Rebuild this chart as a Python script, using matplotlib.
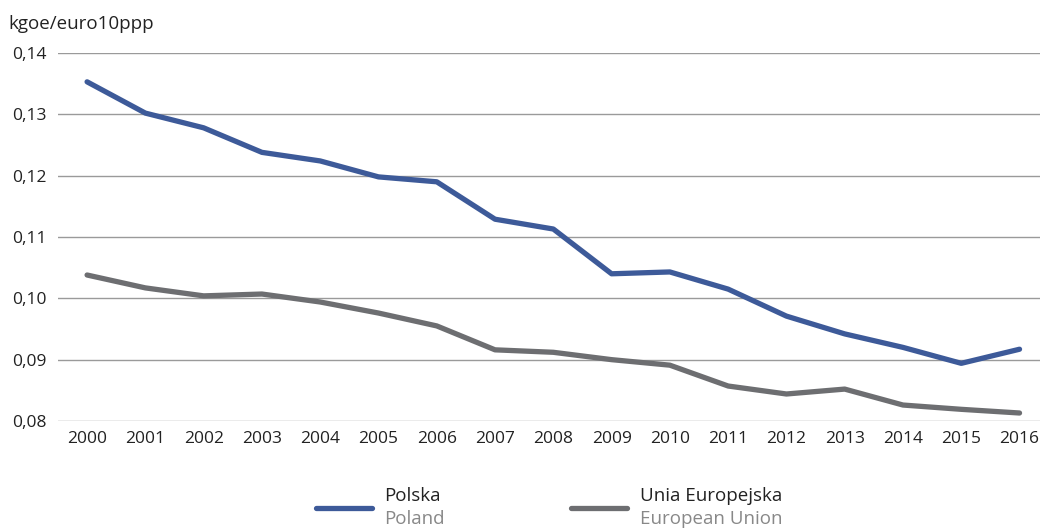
import matplotlib
matplotlib.use("Agg")
import matplotlib.pyplot as plt
from matplotlib.lines import Line2D
from matplotlib.ticker import FuncFormatter

plt.rcParams['font.family'] = ['Open Sans', 'DejaVu Sans']

years = list(range(2000, 2017))
polska = [0.1353, 0.1302, 0.1278, 0.1238, 0.1224, 0.1198, 0.1190, 0.1129, 0.1113,
          0.1040, 0.1043, 0.1015, 0.0971, 0.0942, 0.0920, 0.0894, 0.0917]
ue = [0.1038, 0.1017, 0.1004, 0.1007, 0.0994, 0.0976, 0.0955, 0.0916, 0.0912,
      0.0900, 0.0891, 0.0857, 0.0844, 0.0852, 0.0826, 0.0819, 0.0813]
yticks = [0.08, 0.09, 0.10, 0.11, 0.12, 0.13, 0.14]

blue = '#3d5a99'
grey = '#6d6e71'

fig = plt.figure(figsize=(10.48, 5.29), dpi=100)
ax = fig.add_axes([0.0553, 0.2042, 0.9370, 0.6956])

for y in yticks:
    ax.axhline(y, color='#9a9a9a', lw=1, zorder=1)

ax.plot(years, polska, color=blue, lw=3.8, solid_capstyle='round', zorder=3)
ax.plot(years, ue, color=grey, lw=3.8, solid_capstyle='round', zorder=3)

ax.set_xlim(1999.5, 2016.35)
ax.set_ylim(0.08, 0.14)
ax.set_xticks(years)
ax.set_yticks(yticks)
ax.yaxis.set_major_formatter(FuncFormatter(lambda v, p: f"{v:.2f}".replace('.', ',')))
ax.tick_params(length=0, labelsize=12.5, colors='#222222', pad=7)
ax.tick_params(axis='y', pad=8)
for s in ax.spines.values():
    s.set_visible(False)

fig.text(0.008, 0.955, 'kgoe/euro10ppp', fontsize=13.5, color='#222222', va='center')

# legend
fig.add_artist(Line2D([316/1048, 372/1048], [1 - 508/529] * 2, color=blue, lw=3.8,
                      solid_capstyle='round', transform=fig.transFigure))
fig.text(384/1048, 1 - 496/529, 'Polska', fontsize=13.5, color='#222222', va='center')
fig.text(384/1048, 1 - 519/529, 'Poland', fontsize=13.5, color='#888888', va='center')
fig.add_artist(Line2D([571/1048, 627/1048], [1 - 508/529] * 2, color=grey, lw=3.8,
                      solid_capstyle='round', transform=fig.transFigure))
fig.text(640/1048, 1 - 496/529, 'Unia Europejska', fontsize=13.5, color='#222222', va='center')
fig.text(640/1048, 1 - 519/529, 'European Union', fontsize=13.5, color='#888888', va='center')

fig.savefig('out.png', dpi=100)
